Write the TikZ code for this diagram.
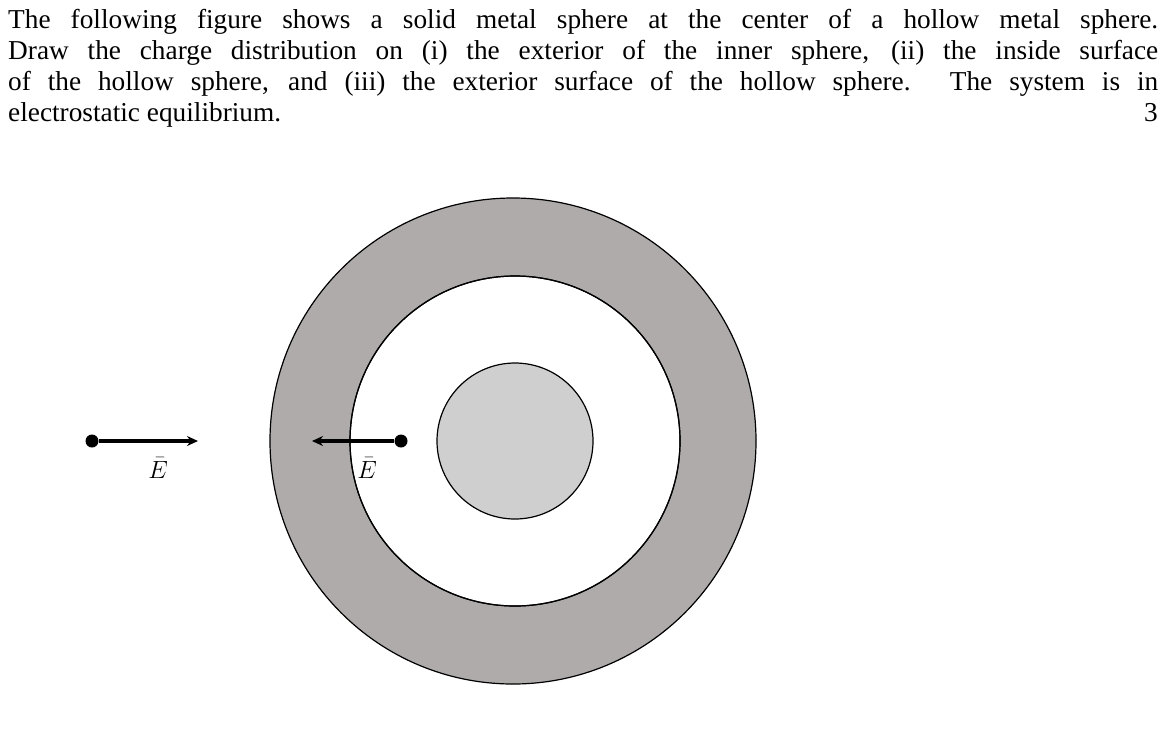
\documentclass[tikz,border=0pt]{standalone}
\usepackage{fontspec}
\setmainfont{Liberation Serif}
\usetikzlibrary{arrows.meta}
\begin{document}
\begin{tikzpicture}[x=1pt,y=-1pt,
  txt/.style={anchor=base west,inner sep=0pt,font=\fontsize{27.3}{31}\selectfont},
  dotn/.style={circle,fill=black,inner sep=0pt,minimum size=13pt},
  elab/.style={font=\fontsize{24}{26}\selectfont,inner sep=0pt}]
\useasboundingbox (0,0) rectangle (1174,740);
\node[txt] (l1) at (8,28) {\makebox[1150pt][s]{The following figure shows a solid metal sphere at the center of a hollow metal sphere.}};
\node[txt] (l2) at (8,59) {\makebox[1150pt][s]{Draw the charge distribution on (i) the exterior of the inner sphere, (ii) the inside surface}};
\node[txt] (l3) at (8,90) {\makebox[1150pt][s]{of the hollow sphere, and (iii) the exterior surface of the hollow sphere. The system is in}};
\node[txt] (l4) at (8,121) {electrostatic equilibrium.};
\node[txt,anchor=base east] (n3) at (1158,121) {3};
\fill[fill={rgb,255:red,174;green,171;blue,170},draw=black,line width=1.2pt,even odd rule] (513,441) circle (243) (515,441) circle (165);
\draw[line width=1.2pt] (515,441) circle (165);
\node[circle,draw=black,line width=1.2pt,fill={rgb,255:red,208;green,207;blue,208},minimum size=156pt,inner sep=0pt] (inner) at (515,441) {};
\node[dotn] (d1) at (92,441) {};
\coordinate (t1) at (198,441);
\draw[line width=3.5pt,-{Stealth[length=11pt,width=10pt]}] (d1) -- (t1);
\node[elab] (e1) at (158,468) {$\bar{E}$};
\node[dotn] (d2) at (401,441) {};
\coordinate (t2) at (312,441);
\draw[line width=3.5pt,-{Stealth[length=11pt,width=10pt]}] (d2) -- (t2);
\node[elab] (e2) at (367,468) {$\bar{E}$};
\end{tikzpicture}
\end{document}
